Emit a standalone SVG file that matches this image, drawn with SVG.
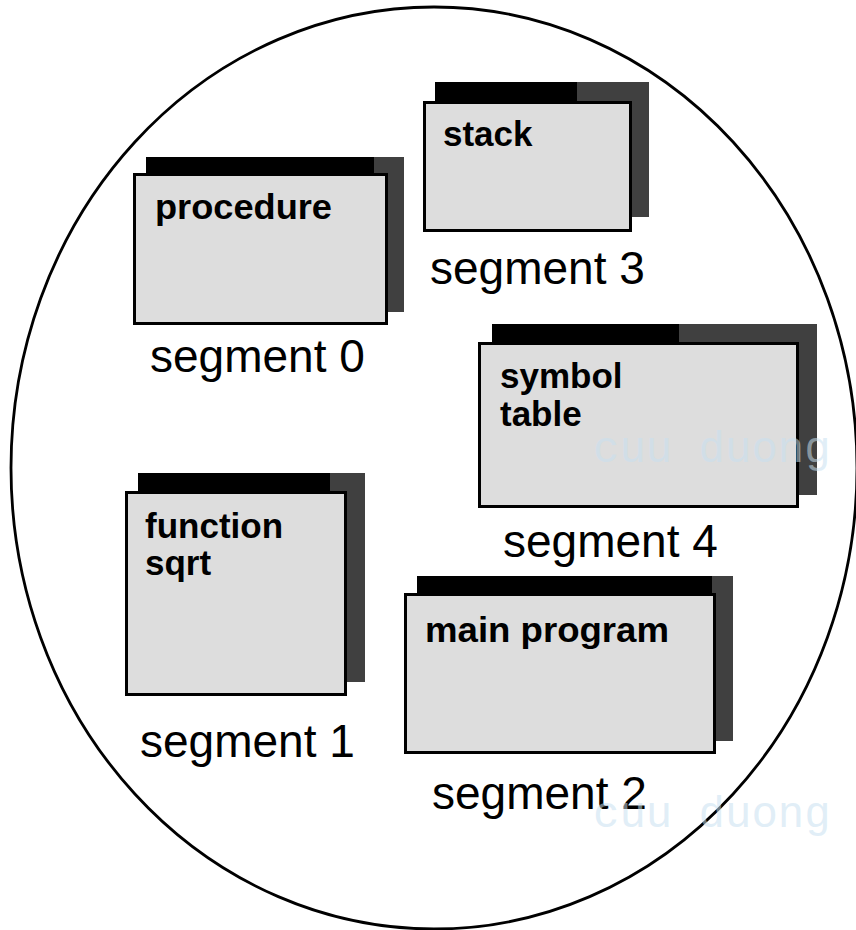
<svg xmlns="http://www.w3.org/2000/svg" width="856" height="930" viewBox="0 0 856 930">
  <style>
    .shadow { fill: #404040; }
    .bar { fill: #000000; }
    .front { fill: #dddddd; stroke: #000000; stroke-width: 3; }
    .title { font-family: "Liberation Sans", Arial, sans-serif; font-weight: bold; font-size: 35px; fill: #000000; }
    .seg { font-family: "Liberation Sans", Arial, sans-serif; font-size: 46px; fill: #000000; }
    .wm { font-family: "Liberation Mono", "DejaVu Sans Mono", monospace; font-size: 44px; fill: #c8e0f0; fill-opacity: 0.55; }
  </style>
  <rect x="0" y="0" width="856" height="930" fill="#ffffff"/>
  <ellipse id="memory" cx="434" cy="468" rx="423" ry="461" fill="none" stroke="#000000" stroke-width="2.8"/>

  <g id="segment0">
    <rect class="shadow" x="146" y="157" width="258" height="155"/>
    <rect class="bar" x="146" y="157" width="228" height="18"/>
    <rect class="front" x="134.5" y="174.5" width="252" height="149"/>
    <text class="title" x="155" y="219" textLength="177" lengthAdjust="spacingAndGlyphs">procedure</text>
    <text class="seg" x="150" y="372">segment 0</text>
  </g>

  <g id="segment3">
    <rect class="shadow" x="435" y="82" width="214" height="135"/>
    <rect class="bar" x="435" y="82" width="142" height="19"/>
    <rect class="front" x="424.5" y="102.5" width="206" height="128"/>
    <text class="title" x="443" y="146">stack</text>
    <text class="seg" x="430" y="284">segment 3</text>
  </g>

  <g id="segment4">
    <rect class="shadow" x="492" y="324" width="325" height="171"/>
    <rect class="bar" x="492" y="324" width="187" height="18"/>
    <rect class="front" x="479.5" y="343.5" width="318" height="163"/>
    <text class="title" x="500" y="388">symbol</text>
    <text class="title" x="500" y="426">table</text>
    <text class="seg" x="503" y="557">segment 4</text>
  </g>

  <g id="segment1">
    <rect class="shadow" x="138" y="473" width="227" height="209"/>
    <rect class="bar" x="138" y="473" width="192" height="19"/>
    <rect class="front" x="126.5" y="492.5" width="219" height="202"/>
    <text class="title" x="145" y="538">function</text>
    <text class="title" x="145" y="575">sqrt</text>
    <text class="seg" x="140" y="757">segment 1</text>
  </g>

  <g id="segment2">
    <rect class="shadow" x="417" y="576" width="316" height="165"/>
    <rect class="bar" x="417" y="576" width="295" height="17"/>
    <rect class="front" x="405.5" y="594.5" width="309" height="158"/>
    <text class="title" x="425" y="642" textLength="244" lengthAdjust="spacingAndGlyphs">main program</text>
    <text class="seg" x="432" y="809">segment 2</text>
  </g>

  <g id="watermark">
    <text class="wm" x="593" y="462">cuu duong</text>
    <text class="wm" x="593" y="827">cuu duong</text>
  </g>
</svg>
